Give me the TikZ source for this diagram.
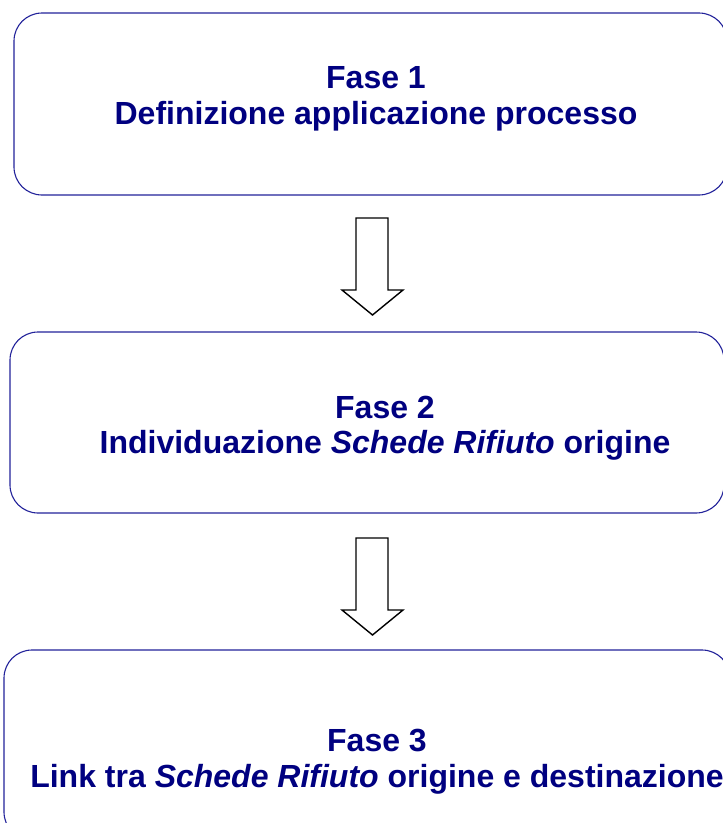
\documentclass[tikz,border=0pt]{standalone}
\usepackage{fontspec}
\setmainfont{Liberation Sans}
\definecolor{boxline}{HTML}{22229A}
\definecolor{navytext}{HTML}{000080}
\begin{document}
\begin{tikzpicture}[x=1pt,y=-1pt,
  phasebox/.style={draw=boxline,line width=1.1pt,rounded corners=28pt,fill=white},
  phasetext/.style={text=navytext,font=\fontsize{32}{35.5}\selectfont\bfseries,align=center,inner sep=0pt},
  blockarrow/.style={draw=black,line width=1.4pt,fill=white,line join=miter}]
\useasboundingbox (0,0) rectangle (723,823);
% boxes
\draw[phasebox] (14,13) rectangle (727,195);
\draw[phasebox] (10,332) rectangle (724,513);
\draw[phasebox] (4,650) rectangle (730,840);
% texts
\node[phasetext] (t1) at (376,99) {Fase 1\\Definizione applicazione processo};
\node[phasetext] (t2) at (385,428) {Fase 2\\Individuazione \textit{Schede Rifiuto} origine};
\node[phasetext] (t3) at (377,761.5) {Fase 3\\Link tra \textit{Schede Rifiuto} origine e destinazione};
% block arrows
\foreach \yy/\nm in {218/a1,538/a2}{
  \draw[blockarrow] (356,\yy) -- (388,\yy) -- (388,\yy+72) -- (403,\yy+72)
     -- (372.5,\yy+97) -- (342,\yy+72) -- (356,\yy+72) -- cycle;
}
\end{tikzpicture}
\end{document}
